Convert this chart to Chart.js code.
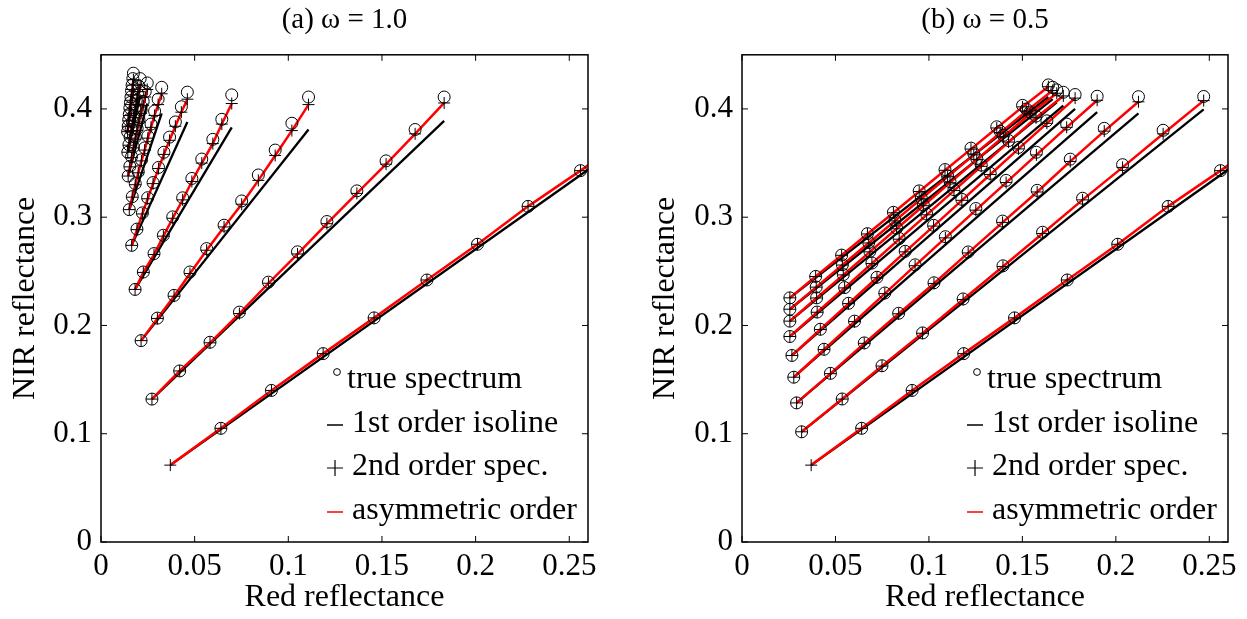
<!DOCTYPE html>
<html>
<head>
<meta charset="utf-8">
<script src="https://cdn.jsdelivr.net/npm/chart.js@4.4.1/dist/chart.umd.min.js"></script>
<style>
  body { margin: 0; background: #fff; width: 1247px; height: 619px; position: relative; overflow: hidden; }
  canvas { position: absolute; top: 0; }
  #chartA { left: 0; }
  #chartB { left: 640px; }
</style>
</head>
<body>
<canvas id="chartA" width="620" height="619"></canvas>
<canvas id="chartB" width="607" height="619"></canvas>
<script>
// axes + labels
const xTicks = [0, 0.05, 0.1, 0.15, 0.2, 0.25];
const yTicks = [0, 0.1, 0.2, 0.3, 0.4];
const panelTitles = ["(a) ω = 1.0", "(b) ω = 0.5"];
const legendLabels = ["true spectrum", "1st order isoline", "2nd order spec.", "asymmetric order"];

// panel (a): one row per curve, red reflectance
const aX = [
  [0.037, 0.064, 0.091, 0.1186, 0.1458, 0.174, 0.201, 0.228, 0.256, 0.283],
  [0.0272, 0.042, 0.0582, 0.0739, 0.0894, 0.1049, 0.1206, 0.1366, 0.1522, 0.1677, 0.1832],
  [0.0214, 0.0301, 0.039, 0.0475, 0.0564, 0.0657, 0.0751, 0.084, 0.093, 0.1019, 0.1108],
  [0.0182, 0.0226, 0.0283, 0.0333, 0.0383, 0.0436, 0.0485, 0.0538, 0.0597, 0.0645, 0.0698],
  [0.0164, 0.0192, 0.0221, 0.0249, 0.0278, 0.0307, 0.0336, 0.0366, 0.0397, 0.0429, 0.0461],
  [0.0151, 0.0167, 0.0183, 0.0199, 0.0216, 0.0233, 0.025, 0.0267, 0.0286, 0.0305, 0.0324],
  [0.0145, 0.0154, 0.0163, 0.0173, 0.0183, 0.0193, 0.0203, 0.0214, 0.0225, 0.0236, 0.0247],
  [0.0143, 0.0149, 0.0155, 0.0161, 0.0168, 0.0175, 0.0181, 0.0188, 0.0195, 0.0202, 0.0209],
  [0.0142, 0.0145, 0.0148, 0.0151, 0.0154, 0.0157, 0.016, 0.0163, 0.0166, 0.017, 0.0173]
];
// true spectrum NIR
const aTrueY = [
  [null, 0.105, 0.140, 0.174, 0.207, 0.242, 0.275, 0.310, 0.343, 0.377],
  [0.132, 0.158, 0.1845, 0.2123, 0.240, 0.268, 0.296, 0.3243, 0.352, 0.381, 0.411],
  [0.186, 0.2068, 0.2278, 0.2494, 0.271, 0.2926, 0.315, 0.339, 0.362, 0.3868, 0.411],
  [0.2333, 0.2494, 0.2664, 0.2833, 0.3003, 0.3179, 0.3358, 0.3537, 0.3719, 0.3904, 0.413],
  [0.274, 0.289, 0.304, 0.318, 0.332, 0.346, 0.360, 0.374, 0.388, 0.402, 0.4155],
  [0.307, 0.319, 0.331, 0.342, 0.353, 0.364, 0.375, 0.386, 0.398, 0.409, 0.420],
  [0.338, 0.347, 0.356, 0.365, 0.374, 0.382, 0.390, 0.399, 0.407, 0.416, 0.424],
  [0.360, 0.367, 0.374, 0.381, 0.388, 0.394, 0.401, 0.408, 0.414, 0.421, 0.428],
  [0.379, 0.384, 0.390, 0.395, 0.401, 0.406, 0.411, 0.417, 0.422, 0.428, 0.433]
];
// 2nd order / asymmetric NIR
const aSpecY = [
  [0.071, 0.105, 0.140, 0.174, 0.207, 0.242, 0.275, 0.310, 0.343, 0.376],
  [0.132, 0.158, 0.184, 0.211, 0.239, 0.266, 0.294, 0.322, 0.349, 0.377, 0.4055],
  [0.186, 0.2065, 0.227, 0.248, 0.2695, 0.291, 0.312, 0.334, 0.357, 0.380, 0.404],
  [0.2333, 0.249, 0.2655, 0.2825, 0.299, 0.316, 0.333, 0.350, 0.368, 0.386, 0.405],
  [0.274, 0.2885, 0.303, 0.317, 0.331, 0.345, 0.358, 0.371, 0.384, 0.397, 0.409],
  [0.307, 0.3185, 0.330, 0.341, 0.352, 0.362, 0.373, 0.383, 0.394, 0.404, 0.414],
  [0.338, 0.3465, 0.355, 0.364, 0.372, 0.380, 0.388, 0.396, 0.403, 0.411, 0.418],
  [0.360, 0.3665, 0.373, 0.380, 0.386, 0.392, 0.398, 0.404, 0.410, 0.416, 0.422],
  [0.379, 0.384, 0.389, 0.394, 0.399, 0.404, 0.408, 0.413, 0.418, 0.422, 0.427]
];
// 1st order isoline NIR at the last red value
const aIsoEndY = [0.372, 0.389, 0.381, 0.383, 0.388, 0.396, 0.405, 0.412, 0.418];

// panel (b)
const bX = [
  [0.037, 0.064, 0.091, 0.1186, 0.1458, 0.174, 0.201, 0.228, 0.256, 0.283],
  [0.0319, 0.0536, 0.0749, 0.0966, 0.1183, 0.1396, 0.1608, 0.1822, 0.2036, 0.2253, 0.247],
  [0.0292, 0.0473, 0.0654, 0.0838, 0.1027, 0.121, 0.1394, 0.1579, 0.1756, 0.1938, 0.2121],
  [0.0277, 0.0439, 0.0602, 0.0764, 0.0926, 0.1088, 0.1251, 0.1413, 0.1575, 0.1737, 0.190],
  [0.0267, 0.0419, 0.057, 0.0722, 0.0873, 0.1025, 0.1176, 0.1328, 0.1479, 0.1631, 0.1782],
  [0.0256, 0.0402, 0.0549, 0.0695, 0.0841, 0.0988, 0.1134, 0.128, 0.1426, 0.1573, 0.1719],
  [0.0256, 0.0399, 0.0542, 0.0684, 0.0827, 0.097, 0.1113, 0.1256, 0.1398, 0.1541, 0.1684],
  [0.0256, 0.0397, 0.0537, 0.0678, 0.0818, 0.0959, 0.11, 0.124, 0.1381, 0.1521, 0.1662],
  [0.0256, 0.0394, 0.0533, 0.0671, 0.081, 0.0948, 0.1086, 0.1225, 0.1363, 0.1501, 0.1639]
];
const bTrueY = [
  [null, 0.105, 0.140, 0.174, 0.207, 0.242, 0.275, 0.310, 0.343, 0.377],
  [0.1018, 0.1321, 0.1628, 0.1931, 0.2245, 0.2551, 0.2861, 0.3175, 0.3485, 0.3803, 0.4115],
  [0.1285, 0.1558, 0.1839, 0.2113, 0.2394, 0.2679, 0.2964, 0.3248, 0.3536, 0.3821, 0.4113],
  [0.1522, 0.178, 0.204, 0.230, 0.256, 0.282, 0.308, 0.334, 0.360, 0.386, 0.4117],
  [0.1723, 0.1965, 0.2205, 0.2445, 0.2685, 0.2925, 0.3165, 0.3405, 0.3645, 0.389, 0.4133],
  [0.1898, 0.2124, 0.235, 0.2577, 0.2803, 0.3029, 0.3255, 0.3481, 0.3708, 0.3934, 0.4154],
  [0.204, 0.2255, 0.247, 0.2684, 0.2899, 0.3113, 0.3328, 0.3542, 0.3757, 0.3971, 0.4176],
  [0.215, 0.2355, 0.2561, 0.2766, 0.2972, 0.3177, 0.3382, 0.3588, 0.3793, 0.3999, 0.420],
  [0.2255, 0.2453, 0.265, 0.2848, 0.3045, 0.3243, 0.344, 0.3638, 0.3835, 0.4033, 0.4222]
];
const bSpecY = [
  [0.071, 0.105, 0.140, 0.174, 0.207, 0.242, 0.275, 0.310, 0.343, 0.376],
  [0.1018, 0.132, 0.1625, 0.1928, 0.224, 0.2545, 0.285, 0.316, 0.346, 0.377, 0.4077],
  [0.1285, 0.1555, 0.1835, 0.2108, 0.2388, 0.267, 0.2952, 0.3233, 0.3515, 0.3795, 0.4066],
  [0.1522, 0.1778, 0.2036, 0.2294, 0.2552, 0.2809, 0.3065, 0.332, 0.3575, 0.383, 0.408],
  [0.1723, 0.1963, 0.2202, 0.2441, 0.268, 0.2918, 0.3156, 0.3394, 0.3631, 0.3867, 0.410],
  [0.1898, 0.2122, 0.2347, 0.2572, 0.2797, 0.3022, 0.3246, 0.347, 0.3694, 0.3918, 0.412],
  [0.204, 0.2254, 0.2467, 0.268, 0.2893, 0.3106, 0.3319, 0.3531, 0.3743, 0.3955, 0.4145],
  [0.215, 0.2354, 0.2558, 0.2762, 0.2966, 0.317, 0.3373, 0.3576, 0.3778, 0.398, 0.417],
  [0.2255, 0.2452, 0.2648, 0.2845, 0.3041, 0.3237, 0.3433, 0.3629, 0.3824, 0.4019, 0.4205]
];
const bIsoEndY = [0.372, 0.3996, 0.396, 0.397, 0.400, 0.403, 0.406, 0.409, 0.411];

const FONT = "'Liberation Serif', 'Times New Roman', serif";

function curveDatasets(xs, trueY, specY, isoEndY) {
  const sets = [];
  xs.forEach((cx, i) => {
    const sy = specY[i];
    const last = cx.length - 1;
    // 1st order isoline
    sets.push({
      data: [{ x: cx[0], y: sy[0] }, { x: cx[last], y: isoEndY[i] }],
      showLine: true, borderColor: "#000", borderWidth: 2.3, pointRadius: 0, clip: 0, order: 4
    });
    // asymmetric order
    sets.push({
      data: cx.map((x, j) => ({ x, y: sy[j] })),
      showLine: true, borderColor: "#ff0000", borderWidth: 2.5, pointRadius: 0, clip: 0, order: 3
    });
    // true spectrum
    sets.push({
      data: cx.map((x, j) => ({ x, y: trueY[i][j] })).filter(p => p.y !== null),
      pointStyle: "circle", pointRadius: 6, borderColor: "#000", borderWidth: 1,
      backgroundColor: "rgba(0,0,0,0)", clip: 8, order: 2
    });
    // 2nd order spec.
    sets.push({
      data: cx.map((x, j) => ({ x, y: sy[j] })),
      pointStyle: "cross", pointRadius: 6, borderColor: "#000", borderWidth: 1, clip: 8, order: 1
    });
  });
  return sets;
}

// box + inward ticks on all four sides, matlab style
const framePlugin = {
  id: "frame",
  afterDatasetsDraw(chart) {
    const { ctx, chartArea: a, scales } = chart;
    ctx.save();
    ctx.strokeStyle = "#000";
    ctx.lineWidth = 1.5;
    ctx.strokeRect(a.left, a.top, a.right - a.left, a.bottom - a.top);
    ctx.lineWidth = 1;
    ctx.beginPath();
    xTicks.forEach(v => {
      const px = scales.x.getPixelForValue(v);
      ctx.moveTo(px, a.bottom); ctx.lineTo(px, a.bottom - 6);
      ctx.moveTo(px, a.top); ctx.lineTo(px, a.top + 6);
    });
    yTicks.forEach(v => {
      const py = scales.y.getPixelForValue(v);
      ctx.moveTo(a.left, py); ctx.lineTo(a.left + 6, py);
      ctx.moveTo(a.right, py); ctx.lineTo(a.right - 6, py);
    });
    ctx.stroke();
    ctx.restore();
  }
};

// legend drawn inside the box, bottom right
const legendPlugin = {
  id: "boxLegend",
  afterDraw(chart) {
    const { ctx, chartArea: a } = chart;
    const tx = a.right - 236;
    const sx = tx - 17;
    const rows = [a.bottom - 162, a.bottom - 118, a.bottom - 75, a.bottom - 31];
    ctx.save();
    ctx.font = "32px " + FONT;
    ctx.fillStyle = "#000";
    ctx.textBaseline = "middle";
    ctx.lineWidth = 1;
    ctx.strokeStyle = "#000";
    // circle
    ctx.beginPath();
    ctx.arc(sx + 2, rows[0] - 8, 3.4, 0, Math.PI * 2);
    ctx.stroke();
    ctx.fillText(legendLabels[0], tx - 5, rows[0]);
    // black dash
    ctx.lineWidth = 1.5;
    ctx.beginPath();
    ctx.moveTo(sx - 8, rows[1] + 1); ctx.lineTo(sx + 8, rows[1] + 1);
    ctx.stroke();
    ctx.fillText(legendLabels[1], tx, rows[1]);
    // plus
    ctx.lineWidth = 1.2;
    ctx.beginPath();
    ctx.moveTo(sx - 8, rows[2] + 1); ctx.lineTo(sx + 8, rows[2] + 1);
    ctx.moveTo(sx, rows[2] - 7); ctx.lineTo(sx, rows[2] + 9);
    ctx.stroke();
    ctx.fillText(legendLabels[2], tx, rows[2]);
    // red dash
    ctx.strokeStyle = "#ff0000";
    ctx.lineWidth = 1.5;
    ctx.beginPath();
    ctx.moveTo(sx - 8, rows[3] + 1); ctx.lineTo(sx + 8, rows[3] + 1);
    ctx.stroke();
    ctx.fillText(legendLabels[3], tx, rows[3]);
    ctx.restore();
  }
};

function makePanel(id, title, xs, trueY, specY, isoEndY, yAxisWidth, padRight) {
  new Chart(document.getElementById(id), {
    type: "scatter",
    data: { datasets: curveDatasets(xs, trueY, specY, isoEndY) },
    options: {
      responsive: false,
      animation: false,
      events: [],
      layout: { padding: { left: 0, right: padRight, top: 0, bottom: 0 } },
      plugins: {
        legend: { display: false },
        tooltip: { enabled: false },
        title: {
          display: true,
          text: title,
          fullSize: false,
          color: "#000",
          font: { family: FONT, size: 29, weight: "normal" },
          padding: { top: 3, bottom: 17 }
        }
      },
      scales: {
        x: {
          type: "linear",
          min: 0,
          max: 0.26,
          grid: { display: false, drawTicks: false },
          border: { display: false },
          afterBuildTicks: s => { s.ticks = xTicks.map(v => ({ value: v })); },
          afterFit: s => { s.height = 77; },
          ticks: {
            color: "#000",
            padding: 6,
            maxRotation: 0,
            font: { family: FONT, size: 31 },
            callback: v => String(+v.toFixed(2))
          },
          title: {
            display: true,
            text: "Red reflectance",
            color: "#000",
            font: { family: FONT, size: 32 },
            padding: { top: 0, bottom: 2 }
          }
        },
        y: {
          type: "linear",
          min: 0,
          max: 0.45,
          grid: { display: false, drawTicks: false },
          border: { display: false },
          afterBuildTicks: s => { s.ticks = yTicks.map(v => ({ value: v })); },
          afterFit: s => { s.width = yAxisWidth; },
          ticks: {
            color: "#000",
            padding: 9,
            font: { family: FONT, size: 31 },
            callback: v => String(+v.toFixed(2))
          },
          title: {
            display: true,
            text: "NIR reflectance",
            color: "#000",
            font: { family: FONT, size: 32 },
            padding: { top: 6, bottom: 0 }
          }
        }
      }
    },
    plugins: [framePlugin, legendPlugin]
  });
}

makePanel("chartA", panelTitles[0], aX, aTrueY, aSpecY, aIsoEndY, 101, 32);
makePanel("chartB", panelTitles[1], bX, bTrueY, bSpecY, bIsoEndY, 102, 19);
</script>
</body>
</html>
